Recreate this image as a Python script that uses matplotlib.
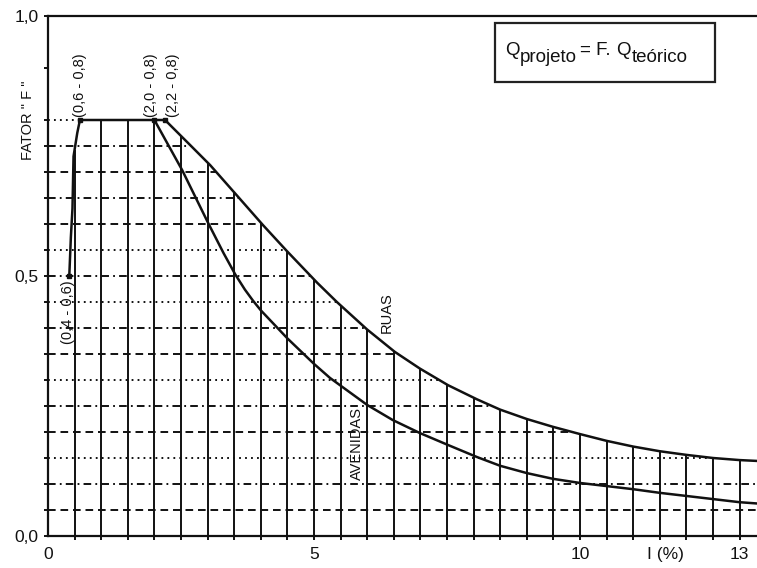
import numpy as np
import matplotlib
matplotlib.use('Agg')
import matplotlib.pyplot as plt
from matplotlib.patches import Rectangle

plt.rcParams['font.family'] = ['Liberation Sans', 'DejaVu Sans']
plt.rcParams['lines.scale_dashes'] = False

# ---------------- data ----------------
rise_x = [0.40, 0.43, 0.46, 0.48, 0.55, 0.60]
rise_y = [0.50, 0.575, 0.63, 0.73, 0.775, 0.80]
plateau_x = [0.60, 2.00, 2.20]
plateau_y = [0.80, 0.80, 0.80]
ruas_x = [2.20, 2.67, 3.05, 3.55, 4.04, 4.49, 5.06, 5.43, 6.00, 6.52, 6.99,
          7.52, 8.06, 8.50, 9.00, 9.49, 10.00, 10.50, 11.00, 11.50, 12.00,
          12.50, 13.00, 13.40]
ruas_y = [0.800, 0.752, 0.713, 0.655, 0.598, 0.548, 0.487, 0.450, 0.397, 0.354,
          0.322, 0.290, 0.263, 0.243, 0.225, 0.210, 0.196, 0.183, 0.172, 0.163,
          0.156, 0.150, 0.146, 0.144]
aven_x = [2.00, 2.52, 3.01, 3.30, 3.52, 3.70, 3.85, 4.00, 4.50, 5.00, 5.30,
          6.00, 6.48, 6.99, 7.52, 8.06, 8.50, 9.00, 9.49, 10.00, 10.50, 11.00,
          11.50, 12.00, 12.50, 13.00, 13.40]
aven_y = [0.800, 0.704, 0.602, 0.544, 0.503, 0.474, 0.453, 0.434, 0.380, 0.331,
          0.304, 0.252, 0.223, 0.198, 0.175, 0.152, 0.135, 0.121, 0.110, 0.102,
          0.096, 0.090, 0.083, 0.077, 0.071, 0.065, 0.062]
key_x = [0.4, 0.6, 2.0, 2.2]
key_y = [0.5, 0.8, 0.8, 0.8]
key_labels = ['(0,4 - 0,6)', '(0,6 - 0,8)', '(2,0 - 0,8)', '(2,2 - 0,8)']
grid_x = [0.5 * k for k in range(1, 27)]          # vertical grid every 0.5
grid_levels = [0.05 * k for k in range(1, 16)]    # horizontal grid every 0.05
xtick_vals = [0, 5, 10, 13]
xtick_labels = ['0', '5', '10', '13']
ytick_vals = [0.0, 0.5, 1.0]
ytick_labels = ['0,0', '0,5', '1,0']

# ---------------- styles ----------------
INK = '#111111'
DASH = (0, (5.5, 3.5))
DOT = (0, (1.3, 3.0))
DASHDOT = (0, (5.5, 3.0, 1.3, 3.0))
level_styles = [DASH, DASHDOT, DOT, DASH, DASHDOT, DOT, DASH, DASHDOT, DOT,
                DASHDOT, DOT, DASH, DASHDOT, DASH, DASHDOT]

W, H = 757, 568
fig = plt.figure(figsize=(W / 100, H / 100), dpi=100)
ax = fig.add_axes([48 / W, 32 / H, 709 / W, 520 / H])
ax.set_xlim(0, 709 / 53.2)
ax.set_ylim(0, 1)

for s in ['left', 'bottom', 'top']:
    ax.spines[s].set_linewidth(1.6)
    ax.spines[s].set_color(INK)
ax.spines['right'].set_visible(False)

# upper envelope (rise + plateau + RUAS)
env_x = rise_x[:-1] + plateau_x[:-1] + ruas_x
env_y = rise_y[:-1] + plateau_y[:-1] + ruas_y

# vertical grid lines up to the upper curve
tops = np.interp(grid_x, env_x, env_y)
ax.vlines(grid_x, -0.008, tops, colors=INK, lw=1.4, clip_on=False, zorder=2)

# horizontal grid lines up to RUAS curve
for lev, st in zip(grid_levels, level_styles):
    xe = np.interp(lev, ruas_y[::-1], ruas_x[::-1])
    ax.plot([0, xe], [lev, lev], color=INK, lw=1.4, linestyle=st, zorder=2)
# dotted line at 0.8 up to plateau start
ax.plot([0, plateau_x[0]], [plateau_y[0], plateau_y[0]], color=INK, lw=1.4,
        linestyle=DOT, zorder=2)

# curves
ax.plot(rise_x + plateau_x[1:] + ruas_x[1:], rise_y + plateau_y[1:] + ruas_y[1:],
        color=INK, lw=1.8, zorder=3, solid_joinstyle='round')
ax.plot(aven_x, aven_y, color=INK, lw=1.8, zorder=3, solid_joinstyle='round')
ax.plot(key_x, key_y, 's', color=INK, ms=3.5, zorder=4)

# key point labels
offsets = [(-1, -3), (0, 2.5), (-2.5, 2.5), (5.5, 2.5)]
vas = ['top', 'bottom', 'bottom', 'bottom']
for kx, ky, lab, off, va in zip(key_x, key_y, key_labels, offsets, vas):
    ax.annotate(lab, xy=(kx, ky), xytext=off, textcoords='offset points',
                rotation=90, ha='center', va=va, fontsize=10.5, color=INK)

ax.text(6.37, 0.43, 'RUAS', rotation=90, ha='center', va='center',
        fontsize=10.5, color=INK)
ax.text(5.81, 0.178, 'AVENIDAS', rotation=90, ha='center', va='center',
        fontsize=10.5, color=INK)

# ticks
ax.set_yticks(ytick_vals)
ax.set_yticklabels(ytick_labels, fontsize=12.5)
ax.set_yticks(grid_levels + [0.8, 0.9], minor=True)
ax.tick_params(axis='y', which='both', direction='out', length=3, width=1.4,
               color=INK, pad=4, labelcolor=INK)
ax.set_xticks(xtick_vals)
ax.set_xticklabels(xtick_labels, fontsize=12.5)
ax.tick_params(axis='x', which='both', length=0, pad=8, labelcolor=INK)

ax.annotate('I (%)', xy=(11.6, 0), xytext=(0, -8), textcoords='offset points',
            ha='center', va='top', fontsize=12.5, color=INK, annotation_clip=False)
ax.text(-0.38, 0.80, 'FATOR " F "', rotation=90, ha='center', va='center',
        fontsize=10.5, color=INK, clip_on=False)

# formula box
box = Rectangle((495 / W, 1 - 82 / H), 220 / W, 59 / H, transform=fig.transFigure,
                facecolor='white', edgecolor='#222222', lw=1.6, zorder=5)
fig.patches.append(box)
t1 = fig.text(505 / W, 1 - 55 / H, 'Q', fontsize=13.5, va='baseline', color=INK, zorder=6)


def chain(txt, prev, dx, dy, fs):
    a = plt.Annotation(txt, xy=(1, 0), xycoords=prev, xytext=(dx, dy),
                       textcoords='offset points', va='bottom', ha='left',
                       fontsize=fs, color=INK, zorder=6)
    fig.add_artist(a)
    return a


t2 = chain('projeto', t1, 0.3, -5.0, 13.5)
t3 = chain('= F.', t2, 2.5, 5.0, 13.5)
t4 = chain('Q', t3, 4.0, 0, 13.5)
t5 = chain('teórico', t4, 0.3, -5.0, 13.5)

fig.savefig('out.png', dpi=100)
